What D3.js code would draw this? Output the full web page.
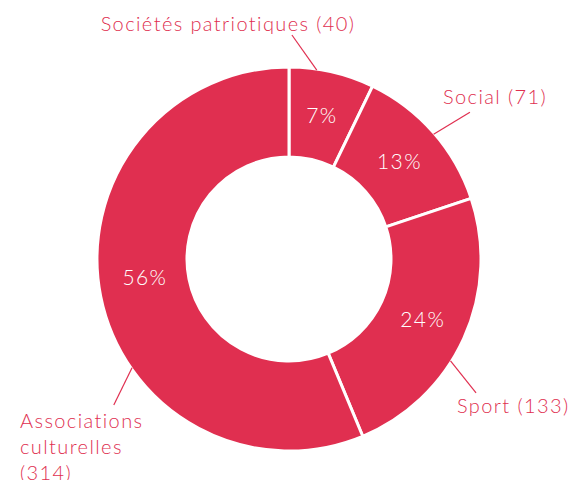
<!DOCTYPE html>
<html>
<head>
<meta charset="utf-8">
<script src="https://cdn.jsdelivr.net/npm/d3@7"></script>
<style>
  body { margin: 0; background: #fff; }
  text { font-family: Lato, "Open Sans", sans-serif; font-weight: 300; letter-spacing: 1.4px; }
</style>
</head>
<body>
<div id="chart"></div>
<script>
// categories and counts, clockwise from the top
var categories = ["Sociétés patriotiques", "Social", "Sport", "Associations culturelles"];
var counts = [40, 71, 133, 314];
var labelLines = [["Sociétés patriotiques (40)"], ["Social (71)"], ["Sport (133)"], ["Associations", "culturelles", "(314)"]];

const width = 573, height = 480;
const cx = 289, cy = 259;
const outerR = 192, innerR = 102;
const red = "#e02f50";

const svg = d3.select("#chart")
  .append("svg")
  .attr("width", width)
  .attr("height", height);

const g = svg.append("g").attr("transform", `translate(${cx}, ${cy})`);

var data = categories.map(function (c, i) {
  return { name: c, value: counts[i], lines: labelLines[i] };
});
var total = d3.sum(counts);

const pie = d3.pie().sort(null).value(function (d) { return d.value; });
const arc = d3.arc().innerRadius(innerR).outerRadius(outerR);
const arcs = pie(data);

// slices
g.selectAll("path.slice")
  .data(arcs)
  .join("path")
  .attr("class", "slice")
  .attr("d", arc)
  .attr("fill", red)
  .attr("stroke", "#fff")
  .attr("stroke-width", 3);

// percentages inside
g.selectAll("text.pct")
  .data(arcs)
  .join("text")
  .attr("class", "pct")
  .attr("transform", function (d) {
    var c = arc.centroid(d);
    if (d.index === 3) c[1] -= 10;
    return `translate(${c[0]}, ${c[1]})`;
  })
  .attr("text-anchor", "middle")
  .attr("dy", "0.35em")
  .attr("fill", "#fff")
  .attr("font-size", 21)
  .text(function (d) { return Math.round(d.data.value / total * 100) + "%"; });

// leader lines: angle where they touch the ring, angle/radius where they end, then label spot
var leaders = [
  { a0: 0.146, a1: 0.013, r1: 224, tx: -61, ty: -228, anchor: "middle" },
  { a0: 0.859, a1: 0.889, r1: 233, tx: 154, ty: -155, anchor: "start" },
  { a0: 2.134, a1: 2.192, r1: 230, tx: 168, ty: 154, anchor: "start" },
  { a0: 4.106, a1: 4.018, r1: 228, tx: -269, ty: 169, anchor: "start" }
];

function polar(a, r) {
  return [Math.sin(a) * r, -Math.cos(a) * r];
}

arcs.forEach(function (d, i) {
  var L = leaders[i];
  var p0 = polar(L.a0, outerR - 1);
  var p1 = polar(L.a1, L.r1);
  g.append("line")
    .attr("x1", p0[0]).attr("y1", p0[1])
    .attr("x2", p1[0]).attr("y2", p1[1])
    .attr("stroke", red)
    .attr("stroke-width", 1.2);

  var t = g.append("text")
    .attr("x", L.tx)
    .attr("y", L.ty)
    .attr("text-anchor", L.anchor)
    .attr("fill", red)
    .attr("font-size", 20);
  d.data.lines.forEach(function (line, j) {
    t.append("tspan")
      .attr("x", L.tx)
      .attr("dy", j === 0 ? 0 : 26)
      .text(line);
  });
});
</script>
</body>
</html>
